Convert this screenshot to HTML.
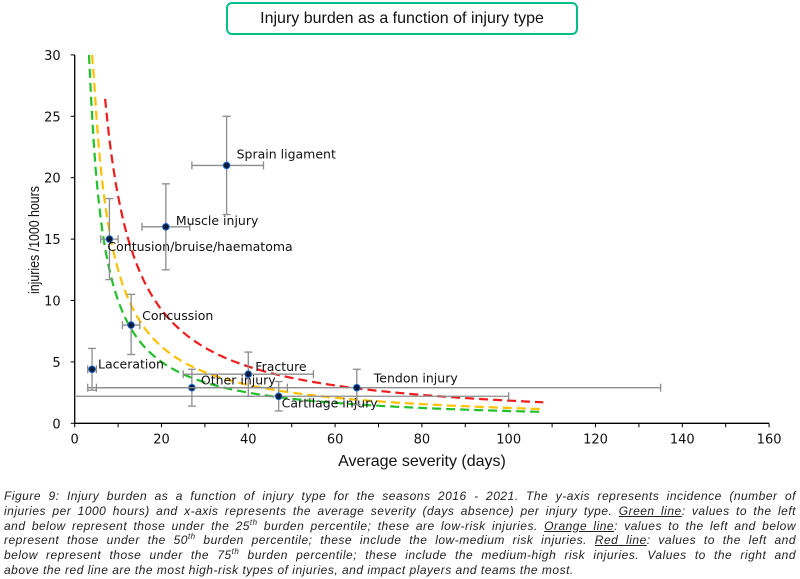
<!DOCTYPE html>
<html><head><meta charset="utf-8">
<style>
body{margin:0;background:#fff;width:800px;height:579px;overflow:hidden;font-family:"Liberation Sans",sans-serif;}
#title{position:absolute;left:226px;top:2px;width:348px;height:29px;border:2px solid #00c08a;border-radius:6px;text-align:center;line-height:29px;font-size:16px;color:#111;}
#caption{position:absolute;left:4px;top:489px;width:792px;font-size:12px;font-style:italic;color:#222;letter-spacing:0.5px;}
#caption div{height:14.8px;line-height:14.8px;white-space:nowrap;text-align:justify;text-align-last:justify;}
#caption u{text-decoration:underline;}
#caption sup{font-size:8px;line-height:0;}
</style></head>
<body>
<div id="title">Injury burden as a function of injury type</div>
<svg id="chart" width="800" height="480" style="position:absolute;left:0;top:0"></svg>
<div id="caption">
<div>Figure 9: Injury burden as a function of injury type for the seasons 2016 - 2021. The y-axis represents incidence (number of</div>
<div>injuries per 1000 hours) and x-axis represents the average severity (days absence) per injury type. <u>Green line</u>: values to the left</div>
<div>and below represent those under the 25<sup>th</sup> burden percentile; these are low-risk injuries. <u>Orange line</u>: values to the left and below</div>
<div>represent those under the 50<sup>th</sup> burden percentile; these include the low-medium risk injuries. <u>Red line</u>: values to the left and</div>
<div>below represent those under the 75<sup>th</sup> burden percentile; these include the medium-high risk injuries. Values to the right and</div>
<div style="text-align-last:left">above the red line are the most high-risk types of injuries, and impact players and teams the most.</div>
</div>
<script>
const categories=["Laceration","Contusion/bruise/haematoma","Concussion","Muscle injury","Sprain ligament","Other injury","Fracture","Cartilage injury","Tendon injury"];
const severity=[4,8,13,21,35,27,40,47,65];
const incidence=[4.4,15,8,16,21,2.9,4,2.2,2.9];
const xLow=[3,6,11,15.5,27,5,25,0,3];
const xHigh=[5,10,15,26.5,43.5,49,55,100,135];
const yLow=[2.7,11.7,5.6,12.5,17,1.4,2.2,1.0,1.5];
const yHigh=[6.1,18.3,10.5,19.5,25,4.4,5.8,3.4,4.4];
const burdenLevels=[100,125,185];
const burdenColors=["#22c02a","#ffc000","#ee1c1c"];
const burdenStart=[3.3,4,7];
const xTicks=[0,20,40,60,80,100,120,140,160];
const yTicks=[0,5,10,15,20,25,30];
const labelOffsets=[[6,-1],[-2,12],[11,-5],[10,-2],[10,-7],[9,-3],[7,-3],[3,11],[17,-5]];

const NS="http://www.w3.org/2000/svg";
const svg=document.getElementById('chart');
const X=v=>74.7+v*4.34, Y=v=>423.3-v*12.28;
function mk(t,a,p){const e=document.createElementNS(NS,t);for(const k in a)e.setAttribute(k,a[k]);(p||svg).appendChild(e);return e;}

const ax=mk('line',{x1:X(0),y1:Y(0),x2:X(160),y2:Y(0),stroke:'#000','stroke-width':1.3});


const ay=mk('line',{x1:X(0),y1:Y(0),x2:X(0),y2:Y(30),stroke:'#000','stroke-width':1.3});


xTicks.forEach(t=>{
  mk('line',{x1:X(t),y1:Y(0),x2:X(t),y2:Y(0)+4,stroke:'#000'});
  const m=t+10; if(m<160) mk('line',{x1:X(m),y1:Y(0),x2:X(m),y2:Y(0)+4,stroke:'#000'});
  const tx=mk('text',{x:X(t),y:Y(0)+20,'text-anchor':'middle','font-size':13,fill:'#111','font-family':'DejaVu Sans, sans-serif'});tx.textContent=t;
  
  
});
yTicks.forEach(t=>{
  mk('line',{x1:X(0)-4,y1:Y(t),x2:X(0),y2:Y(t),stroke:'#000'});
  const tx=mk('text',{x:X(0)-14,y:Y(t)+5,'text-anchor':'end','font-size':13,fill:'#111','font-family':'DejaVu Sans, sans-serif'});tx.textContent=t;
  
  
});
const xt=mk('text',{x:422,y:466,'text-anchor':'middle','font-size':16,fill:'#111'});xt.textContent='Average severity (days)';


const yt=mk('text',{x:0,y:0,transform:'translate(39,240) rotate(-90)','text-anchor':'middle','font-size':15,fill:'#111',textLength:108,lengthAdjust:'spacingAndGlyphs'});yt.textContent='injuries /1000 hours';



burdenLevels.forEach((b,i)=>{
  let d='';for(let x=burdenStart[i];x<=108;x+=0.5){d+=(d?'L':'M')+X(x).toFixed(1)+','+Y(Math.min(b/x,30)).toFixed(1);}
  const p=mk('path',{d:d,fill:'none',stroke:burdenColors[i],'stroke-width':2.2,'stroke-dasharray':'9,5'});
  
  
});

categories.forEach((c,i)=>{
  const g=mk('g',{});
  
  
  const s={stroke:'#8c8c8c','stroke-width':1.3};
  mk('line',Object.assign({x1:X(xLow[i]),y1:Y(incidence[i]),x2:X(xHigh[i]),y2:Y(incidence[i])},s),g);
  mk('line',Object.assign({x1:X(severity[i]),y1:Y(yLow[i]),x2:X(severity[i]),y2:Y(yHigh[i])},s),g);
  [xLow[i],xHigh[i]].forEach(v=>{if(v>0)mk('line',Object.assign({x1:X(v),y1:Y(incidence[i])-4,x2:X(v),y2:Y(incidence[i])+4},s),g);});
  [yLow[i],yHigh[i]].forEach(v=>mk('line',Object.assign({x1:X(severity[i])-4,y1:Y(v),x2:X(severity[i])+4,y2:Y(v)},s),g));
  mk('circle',{cx:X(severity[i]),cy:Y(incidence[i]),r:3.3,fill:'#0a1a3a',stroke:'#1a6ad0','stroke-width':1},g);
  const t=mk('text',{x:X(severity[i])+labelOffsets[i][0],y:Y(incidence[i])+labelOffsets[i][1],'font-size':12.5,fill:'#111','font-family':'DejaVu Sans, sans-serif'},g);t.textContent=c;
});
</script>
</body></html>
